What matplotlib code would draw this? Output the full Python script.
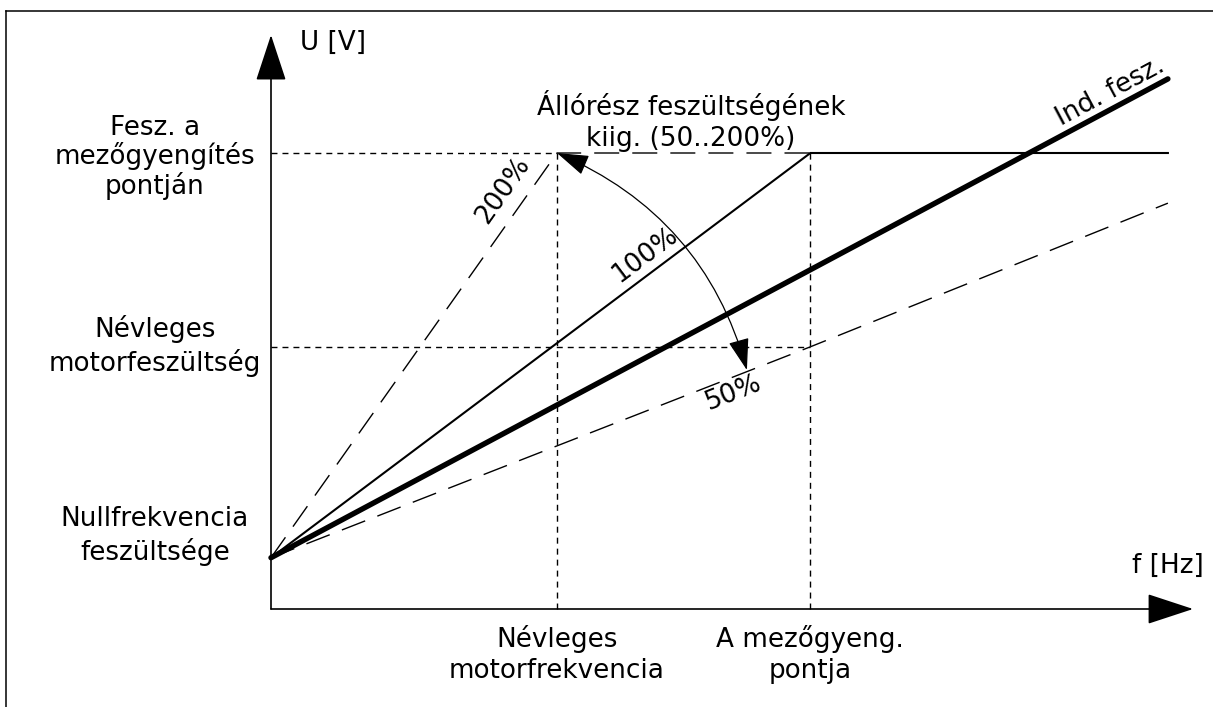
import matplotlib
matplotlib.use("Agg")
import matplotlib.pyplot as plt
from matplotlib.patches import FancyArrowPatch
from matplotlib.lines import Line2D

plt.rcParams['font.family'] = ['DejaVu Sans']
plt.rcParams['lines.scale_dashes'] = False

# --- data (f in Hz, U in V) ---
f_nom = 50.0          # nominal motor frequency
f_fw = 94.3           # field weakening point
f_end = 156.8         # right end of the curves
f_axis = 161.2        # tip of the f axis arrow
U0 = 45.0             # zero frequency voltage
U_nom = 230.0         # nominal motor voltage
U_fw = 400.0          # voltage at field weakening point
U_axis = 503.5        # tip of the U axis arrow

curve_100_f = [0, f_fw, f_end]
curve_100_U = [U0, U_fw, U_fw]
curve_200_f = [0, f_nom, f_fw]
curve_200_U = [U0, U_fw, U_fw]
curve_50_f = [0, f_fw, f_end]
curve_50_U = [U0, U_nom, 356.0]
ind_f = [0, f_end]
ind_U = [U0, 465.0]

arc_start = (f_nom, U_fw)
arc_end = (83.2, 209.6)

FS = 18.9
# figure in pixels: origin at (271, 609), 5.72 px/Hz, 1.14 px/V
fig = plt.figure(figsize=(12.13, 7.07), dpi=100)
ax = fig.add_axes([0, 0, 1, 1])
ax.set_xlim(-271 / 5.72, 942 / 5.72)
ax.set_ylim(-98 / 1.14, 609 / 1.14)
ax.axis('off')

# frame (left and top edges only visible)
fig.add_artist(Line2D([6 / 1213, 6 / 1213], [0, 1 - 11 / 707], color='black', lw=1.1))
fig.add_artist(Line2D([6 / 1213, 1], [1 - 11 / 707, 1 - 11 / 707], color='black', lw=1.1))

# axes arrows
for tip in [(0, U_axis), (f_axis, 0)]:
    ax.add_patch(FancyArrowPatch((0, 0), tip, arrowstyle='-|>,head_length=29.5,head_width=9.7',
                                 mutation_scale=1, shrinkA=0, shrinkB=0, lw=1.2, color='black'))

# short dashed reference lines
short = dict(color='black', lw=1.0, dashes=(4.3, 3.6))
ax.plot([0, f_nom], [U_fw, U_fw], **short)
ax.plot([0, f_fw], [U_nom, U_nom], **short)
ax.plot([f_nom, f_nom], [0, U_fw], **short)
ax.plot([f_fw, f_fw], [0, U_fw], **short)

# curves
long = dict(color='black', lw=1.0, dashes=(18, 9.4))
ax.plot(curve_200_f, curve_200_U, **long)
ax.plot(curve_50_f, curve_50_U, **long)
ax.plot(curve_100_f, curve_100_U, color='black', lw=1.5, solid_joinstyle='miter')
ax.plot(ind_f, ind_U, color='black', lw=3.9, solid_capstyle='round')

# curved double arrow
ax.add_patch(FancyArrowPatch(arc_start, arc_end, arrowstyle='<|-|>,head_length=20,head_width=6.5',
                             connectionstyle='arc3,rad=-0.24', mutation_scale=1,
                             shrinkA=0, shrinkB=0, lw=0.9, color='black'))

# labels (va='baseline' puts the last line on the given U)
ls = 1.25
ax.text(-20.3, 364.0, 'Fesz. a\nmezőgyengítés\npontján', ha='center', va='baseline',
        fontsize=FS, linespacing=1.08)
ax.text(-20.3, 208.8, 'Névleges\nmotorfeszültség', ha='center', va='baseline',
        fontsize=FS, linespacing=ls)
ax.text(-20.3, 43.0, 'Nullfrekvencia\nfeszültsége', ha='center', va='baseline',
        fontsize=FS, linespacing=ls)
ax.text(f_nom, -60.5, 'Névleges\nmotorfrekvencia', ha='center', va='baseline',
        fontsize=FS, linespacing=ls)
ax.text(f_fw, -60.5, 'A mezőgyeng.\npontja', ha='center', va='baseline',
        fontsize=FS, linespacing=ls)
ax.text(73.4, 406.1, 'Állórész feszültségének\nkiig. (50..200%)', ha='center', va='baseline',
        fontsize=FS, linespacing=ls)
ax.text(5.1, 490.4, 'U [V]', ha='left', va='baseline', fontsize=FS)
ax.text(150.5, 31.6, 'f [Hz]', ha='left', va='baseline', fontsize=FS)

rot = dict(ha='center', va='center', rotation_mode='anchor', fontsize=FS)
ax.text(40.6, 367.5, '200%', rotation=54.8, **rot)
ax.text(65.4, 310.5, '100%', rotation=36.9, **rot)
ax.text(80.8, 189.5, '50%', rotation=21.5, **rot)
ax.text(146.7, 453.5, 'Ind. fesz.', rotation=28.0, **rot)

fig.savefig('out.png', dpi=100)
